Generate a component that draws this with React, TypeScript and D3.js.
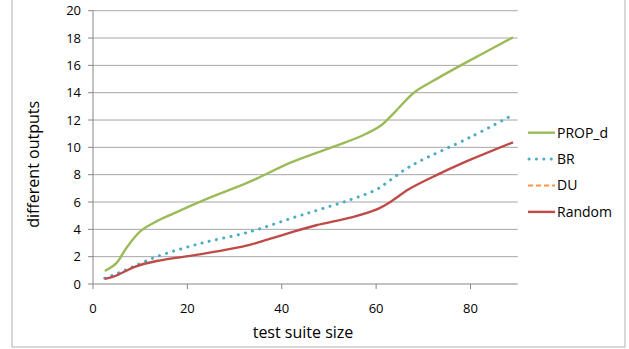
import React from "react";
import * as d3 from "d3";

const xTicks = [0, 20, 40, 60, 80];
const yTicks = [0, 2, 4, 6, 8, 10, 12, 14, 16, 18, 20];

const propX = [2.5, 5, 7, 10, 13, 17, 25, 33, 42, 51, 57, 61, 64, 68, 72, 79, 89];
const propY = [0.95, 1.55, 2.6, 3.85, 4.5, 5.15, 6.35, 7.45, 8.9, 10.05, 10.85, 11.6, 12.6, 14.0, 14.85, 16.2, 18.05];

const brX = [2.5, 5, 8.2, 13.5, 22.6, 33, 42.4, 48, 54.4, 60, 63, 66, 69, 80, 88];
const brY = [0.42, 0.75, 1.22, 2.0, 2.95, 3.8, 4.85, 5.45, 6.15, 6.9, 7.6, 8.35, 8.95, 10.75, 12.2];

const duX: number[] = [];
const duY: number[] = [];

const rndX = [2.5, 4.5, 9, 13.5, 22.6, 33, 40.3, 47.3, 55, 60.4, 63, 67, 73, 79, 89];
const rndY = [0.37, 0.55, 1.28, 1.68, 2.17, 2.85, 3.6, 4.3, 4.9, 5.5, 6.0, 6.95, 8.0, 8.95, 10.37];

const seriesNames = ["PROP_d", "BR", "DU", "Random"];
const seriesColors = ["#9BBB59", "#4BACC6", "#F79646", "#BE4B48"];

export default function App() {
  const W = 629, H = 349;
  const left = 93, right = 517.7, top = 10.7, bottom = 284;
  const x = d3.scaleLinear().domain([0, 90]).range([left, right]);
  const y = d3.scaleLinear().domain([0, 20]).range([bottom, top]);
  const line = d3
    .line<[number, number]>()
    .x((d) => x(d[0]))
    .y((d) => y(d[1]))
    .curve(d3.curveCatmullRom.alpha(0.5));

  const data = [
    d3.zip(propX, propY) as [number, number][],
    d3.zip(brX, brY) as [number, number][],
    d3.zip(duX, duY) as [number, number][],
    d3.zip(rndX, rndY) as [number, number][],
  ];
  const dashes = [undefined, "0.1 7.3", "5 3", undefined];
  const widths = [2.4, 3, 2, 2.4];
  const font = "'Open Sans', Lato, sans-serif";

  return (
    <svg
      width={W}
      height={H}
      style={{ position: "absolute", left: 0, top: 0, background: "#fff" }}
      fontFamily={font}
    >
      <rect x={12} y={-2} width={613} height={349} fill="#fff" stroke="#bfbfbf" strokeWidth={1.2} />
      {yTicks.map((t) => (
        <g key={t}>
          {t > 0 && (
            <line x1={left} x2={right} y1={y(t)} y2={y(t)} stroke="#a6a6a6" strokeWidth={1} />
          )}
          <line x1={left - 5} x2={left} y1={y(t)} y2={y(t)} stroke="#868686" />
          <text x={81} y={y(t)} dy="0.35em" textAnchor="end" fontSize={13} fill="#000">
            {t}
          </text>
        </g>
      ))}
      <line x1={left} x2={left} y1={top} y2={bottom} stroke="#868686" />
      <line x1={left} x2={right} y1={bottom} y2={bottom} stroke="#868686" />
      {xTicks.map((t) => (
        <g key={t}>
          <line x1={x(t)} x2={x(t)} y1={bottom} y2={bottom + 5} stroke="#868686" />
          <text x={x(t)} y={308} dy="0.35em" textAnchor="middle" fontSize={13} fill="#000">
            {t}
          </text>
        </g>
      ))}
      {data.map((d, i) =>
        d.length ? (
          <path
            key={i}
            d={line(d) || ""}
            fill="none"
            stroke={seriesColors[i]}
            strokeWidth={widths[i]}
            strokeDasharray={dashes[i]}
            strokeLinecap={i === 1 ? "round" : "butt"}
          />
        ) : null
      )}
      <text x={303} y={332} dy="0.35em" textAnchor="middle" fontSize={16} fill="#000">
        test suite size
      </text>
      <text
        transform={`translate(33,${(top + bottom) / 2 + 17}) rotate(-90)`}
        textAnchor="middle"
        dy="0.35em"
        fontSize={16}
        fill="#000"
      >
        different outputs
      </text>
      {seriesNames.map((n, i) => {
        const ly = 132.7 + i * 26.4;
        return (
          <g key={n}>
            <line
              x1={i === 1 ? 529 : 528}
              x2={555}
              y1={ly}
              y2={ly}
              stroke={seriesColors[i]}
              strokeWidth={widths[i]}
              strokeDasharray={dashes[i]}
              strokeLinecap={i === 1 ? "round" : "butt"}
            />
            <text x={557} y={ly} dy="0.35em" fontSize={14} fill="#000">
              {n}
            </text>
          </g>
        );
      })}
    </svg>
  );
}
